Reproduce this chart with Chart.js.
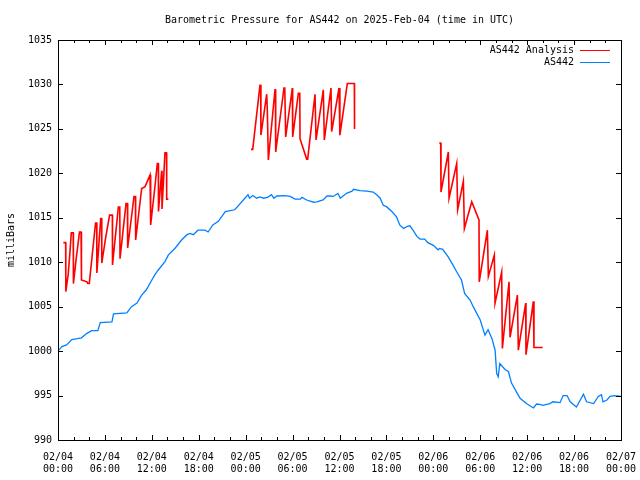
<!DOCTYPE html>
<html lang="en">
<head>
    <meta charset="UTF-8">
    <title>Barometric Pressure for AS442</title>
    <script src="https://cdn.jsdelivr.net/npm/chart.js"></script>
    <style>
        body { margin: 0; background: #fff; }
        canvas { display: block; }
    </style>
</head>
<body>
    <canvas id="pressureChart" width="640" height="480"></canvas>

    <script>
        // hours since 02/04 00:00 UTC
        const stationHours = [0.0, 0.5, 1.1, 1.75, 2.5, 3.0, 3.7, 4.3, 5.1, 5.4, 6.9, 7.1, 8.8, 9.4, 10.1, 10.7, 11.3,
            12.0, 12.4, 12.8, 13.7, 14.1, 15.0, 15.8, 16.5, 16.9, 17.3, 17.9, 18.8, 19.2, 19.8, 20.5, 21.4, 22.6,
            23.1, 23.9, 24.3, 24.5, 24.9, 25.4, 25.8, 26.3, 26.8, 27.3, 27.6, 28.0, 29.0, 29.7, 30.3, 31.0, 31.2,
            31.8, 32.7, 33.1, 33.9, 34.4, 34.8, 35.2, 35.8, 36.1, 36.9, 37.6, 37.8, 38.6, 39.5, 40.3, 40.8, 41.2,
            41.6, 42.0, 42.7, 43.3, 43.7, 44.2, 44.6, 45.0, 45.4, 45.9, 46.3, 46.9, 47.3, 48.0, 48.6, 48.8, 49.2,
            49.9, 50.5, 51.0, 51.6, 52.0, 52.7, 53.1, 54.0, 54.6, 55.0, 55.5, 55.9, 56.1, 56.3, 56.5, 57.2, 57.6,
            58.0, 58.7, 59.1, 59.9, 60.8, 61.2, 61.6, 62.0, 62.9, 63.3, 64.2, 64.6, 65.1, 65.5, 66.3, 67.2, 67.6,
            68.5, 69.1, 69.5, 69.7, 70.2, 70.6, 71.2, 72.0];
        const stationValues = [1000.0, 1000.5, 1000.7, 1001.3, 1001.4, 1001.5, 1002.0, 1002.3, 1002.3, 1003.2, 1003.3, 1004.2, 1004.3, 1005.0, 1005.4, 1006.3, 1006.9,
            1008.0, 1008.6, 1009.1, 1010.1, 1010.8, 1011.6, 1012.5, 1013.1, 1013.25, 1013.1, 1013.6, 1013.6, 1013.4, 1014.2, 1014.6, 1015.7, 1015.9,
            1016.4, 1017.2, 1017.6, 1017.2, 1017.5, 1017.2, 1017.35, 1017.2, 1017.3, 1017.6, 1017.2, 1017.45, 1017.5, 1017.4, 1017.1, 1017.1, 1017.3,
            1017.0, 1016.75, 1016.8, 1017.0, 1017.45, 1017.45, 1017.4, 1017.75, 1017.2, 1017.75, 1018.0, 1018.2, 1018.05, 1018.0, 1017.9, 1017.55, 1017.2,
            1016.4, 1016.25, 1015.7, 1015.1, 1014.2, 1013.8, 1014.0, 1014.1, 1013.6, 1012.9, 1012.6, 1012.6, 1012.2, 1011.9, 1011.4, 1011.55, 1011.45,
            1010.6, 1009.7, 1008.9, 1008.0, 1006.5, 1005.75, 1005.0, 1003.5, 1001.8, 1002.4, 1001.4, 1000.1, 997.5, 997.1, 998.6, 997.9, 997.7,
            996.4, 995.3, 994.7, 994.1, 993.6, 994.05, 994.0, 993.9, 994.1, 994.3, 994.2, 995.0, 995.0, 994.3, 993.7, 995.15, 994.3,
            994.1, 994.9, 995.1, 994.3, 994.5, 994.9, 995.0, 994.9];

        // analysis runs, null breaks the line between days
        const analysisHours = [0.68, 0.98, 1.0, 1.3, 1.5, 1.7, 1.95, 1.97, 2.3, 2.75, 2.95, 3.0, 3.7, 3.8, 4.0, 4.4, 4.8,
            4.95, 4.97, 5.46, 5.58, 5.6, 6.1, 6.6, 6.95, 6.97, 7.72, 7.9, 7.93, 8.7, 8.88, 8.91, 9.72, 9.9, 9.93,
            10.7, 11.13, 11.77, 11.85, 12.41, 12.7, 12.83, 12.85, 13.26, 13.3, 13.68, 13.88, 13.9, 14.11,
            18.0,
            24.68, 24.9, 25.83, 25.92, 25.95, 26.69, 26.77, 26.85, 26.9, 27.75, 27.8, 27.84, 28.9, 29.0, 29.12,
            29.97, 30.01, 30.74, 30.92, 30.95, 31.8, 31.93, 32.87, 32.97, 33.0, 33.93, 34.06, 34.91, 35.0, 35.94,
            36.05, 37.0, 37.9, 37.92,
            42.0,
            48.77, 48.94, 48.98, 49.92, 50.01, 50.99, 51.11, 51.84, 51.97, 52.91, 53.84, 53.87, 54.91, 55.04, 55.8,
            55.89, 56.74, 56.83, 57.68, 57.81, 58.75, 58.87, 59.81, 59.85, 60.79, 60.87, 61.98];
        const analysisValues = [1012.2, 1012.2, 1006.7, 1008.6, 1010.8, 1013.3, 1013.3, 1007.6, 1010.2, 1013.4, 1013.4, 1008.0, 1007.8, 1007.6, 1007.6, 1011.0, 1014.4,
            1014.4, 1008.8, 1014.9, 1014.9, 1009.9, 1012.8, 1015.3, 1015.3, 1009.7, 1016.2, 1016.2, 1010.4, 1016.6, 1016.6, 1011.6, 1017.4, 1017.4, 1012.5,
            1018.3, 1018.5, 1019.8, 1014.2, 1018.6, 1021.1, 1021.1, 1015.7, 1020.3, 1016.0, 1022.3, 1022.3, 1017.1, 1017.1,
            null,
            1022.7, 1022.7, 1029.9, 1029.9, 1024.3, 1028.9, 1027.1, 1027.1, 1021.5, 1029.4, 1029.4, 1022.4, 1029.6, 1029.6, 1024.1,
            1029.6, 1024.1, 1029.0, 1029.0, 1023.9, 1021.6, 1021.6, 1028.9, 1028.9, 1023.75, 1029.4, 1023.75, 1029.6, 1024.7, 1029.6,
            1024.3, 1030.1, 1030.1, 1025.0,
            null,
            1023.4, 1023.4, 1017.9, 1022.4, 1017.2, 1021.1, 1015.9, 1019.1, 1013.8, 1016.8, 1014.75, 1007.8, 1013.6, 1008.4, 1010.8,
            1005.4, 1008.9, 1000.3, 1007.8, 1001.55, 1006.3, 1000.1, 1005.4, 999.6, 1005.6, 1000.4, 1000.4];

        const tickDays = ['02/04', '02/04', '02/04', '02/04', '02/05', '02/05', '02/05', '02/05', '02/06', '02/06', '02/06', '02/06', '02/07'];
        const tickTimes = ['00:00', '06:00', '12:00', '18:00', '00:00', '06:00', '12:00', '18:00', '00:00', '06:00', '12:00', '18:00', '00:00'];

        const FONT = { family: 'DejaVu Sans Mono', size: 10 };

        function toPoints(xs, ys) {
            return xs.map((x, i) => ({ x: x, y: ys[i] }));
        }

        // gnuplot style frame with inward tics, title, y label and legend
        const gnuplotFrame = {
            id: 'gnuplotFrame',
            afterDraw(chart) {
                const ctx = chart.ctx;
                const a = chart.chartArea;
                const xs = chart.scales.x;
                const ys = chart.scales.y;
                ctx.save();
                ctx.strokeStyle = '#000';
                ctx.lineWidth = 1;
                ctx.strokeRect(Math.round(a.left) + 0.5, Math.round(a.top) + 0.5,
                    Math.round(a.right - a.left), Math.round(a.bottom - a.top));

                ctx.beginPath();
                for (let h = 0; h <= 72; h += 2) {
                    const px = Math.round(xs.getPixelForValue(h)) + 0.5;
                    const len = h % 6 === 0 ? 5 : 3;
                    ctx.moveTo(px, a.bottom);
                    ctx.lineTo(px, a.bottom - len);
                    ctx.moveTo(px, a.top);
                    ctx.lineTo(px, a.top + len);
                }
                for (let v = 990; v <= 1035; v += 5) {
                    const py = Math.round(ys.getPixelForValue(v)) + 0.5;
                    ctx.moveTo(a.left, py);
                    ctx.lineTo(a.left + 5, py);
                    ctx.moveTo(a.right, py);
                    ctx.lineTo(a.right - 5, py);
                }
                ctx.stroke();

                ctx.fillStyle = '#000';
                ctx.font = '10px "DejaVu Sans Mono"';
                ctx.textBaseline = 'middle';
                ctx.textAlign = 'center';
                ctx.fillText('Barometric Pressure for AS442 on 2025-Feb-04 (time in UTC)', (a.left + a.right) / 2, 20);

                ctx.save();
                ctx.translate(11, (a.top + a.bottom) / 2);
                ctx.rotate(-Math.PI / 2);
                ctx.fillText('milliBars', 0, 0);
                ctx.restore();

                ctx.textAlign = 'right';
                chart.data.datasets.forEach((ds, i) => {
                    const y = 50 + i * 12;
                    ctx.fillStyle = '#000';
                    ctx.fillText(ds.label, a.right - 47, y);
                    ctx.strokeStyle = ds.borderColor;
                    ctx.beginPath();
                    ctx.moveTo(a.right - 41, y + 0.5);
                    ctx.lineTo(a.right - 11, y + 0.5);
                    ctx.stroke();
                });
                ctx.restore();
            }
        };

        new Chart(document.getElementById('pressureChart'), {
            type: 'line',
            data: {
                datasets: [{
                    label: 'AS442 Analysis',
                    data: toPoints(analysisHours, analysisValues),
                    borderColor: 'rgb(255, 0, 0)',
                    borderWidth: 1.6,
                    pointRadius: 0,
                    tension: 0,
                    spanGaps: false
                }, {
                    label: 'AS442',
                    data: toPoints(stationHours, stationValues),
                    borderColor: 'rgb(0, 128, 255)',
                    borderWidth: 1.3,
                    pointRadius: 0,
                    tension: 0
                }]
            },
            options: {
                responsive: false,
                animation: false,
                devicePixelRatio: 1,
                layout: { padding: { left: 0, right: 19, top: 40, bottom: 0 } },
                plugins: {
                    legend: { display: false },
                    tooltip: { enabled: false }
                },
                scales: {
                    x: {
                        type: 'linear',
                        min: 0,
                        max: 72,
                        grid: { display: false },
                        border: { display: false },
                        ticks: {
                            stepSize: 6,
                            autoSkip: false,
                            maxRotation: 0,
                            padding: 3,
                            color: '#000',
                            font: { family: FONT.family, size: FONT.size, lineHeight: 1.2 },
                            callback: v => [tickDays[v / 6], tickTimes[v / 6]]
                        },
                        afterFit: s => { s.height = 40; }
                    },
                    y: {
                        min: 990,
                        max: 1035,
                        grid: { display: false, drawTicks: false },
                        border: { display: false },
                        ticks: {
                            stepSize: 5,
                            padding: 6,
                            color: '#000',
                            font: FONT,
                            callback: v => String(v)
                        },
                        afterFit: s => { s.width = 58; }
                    }
                }
            },
            plugins: [gnuplotFrame]
        });
    </script>
</body>
</html>
